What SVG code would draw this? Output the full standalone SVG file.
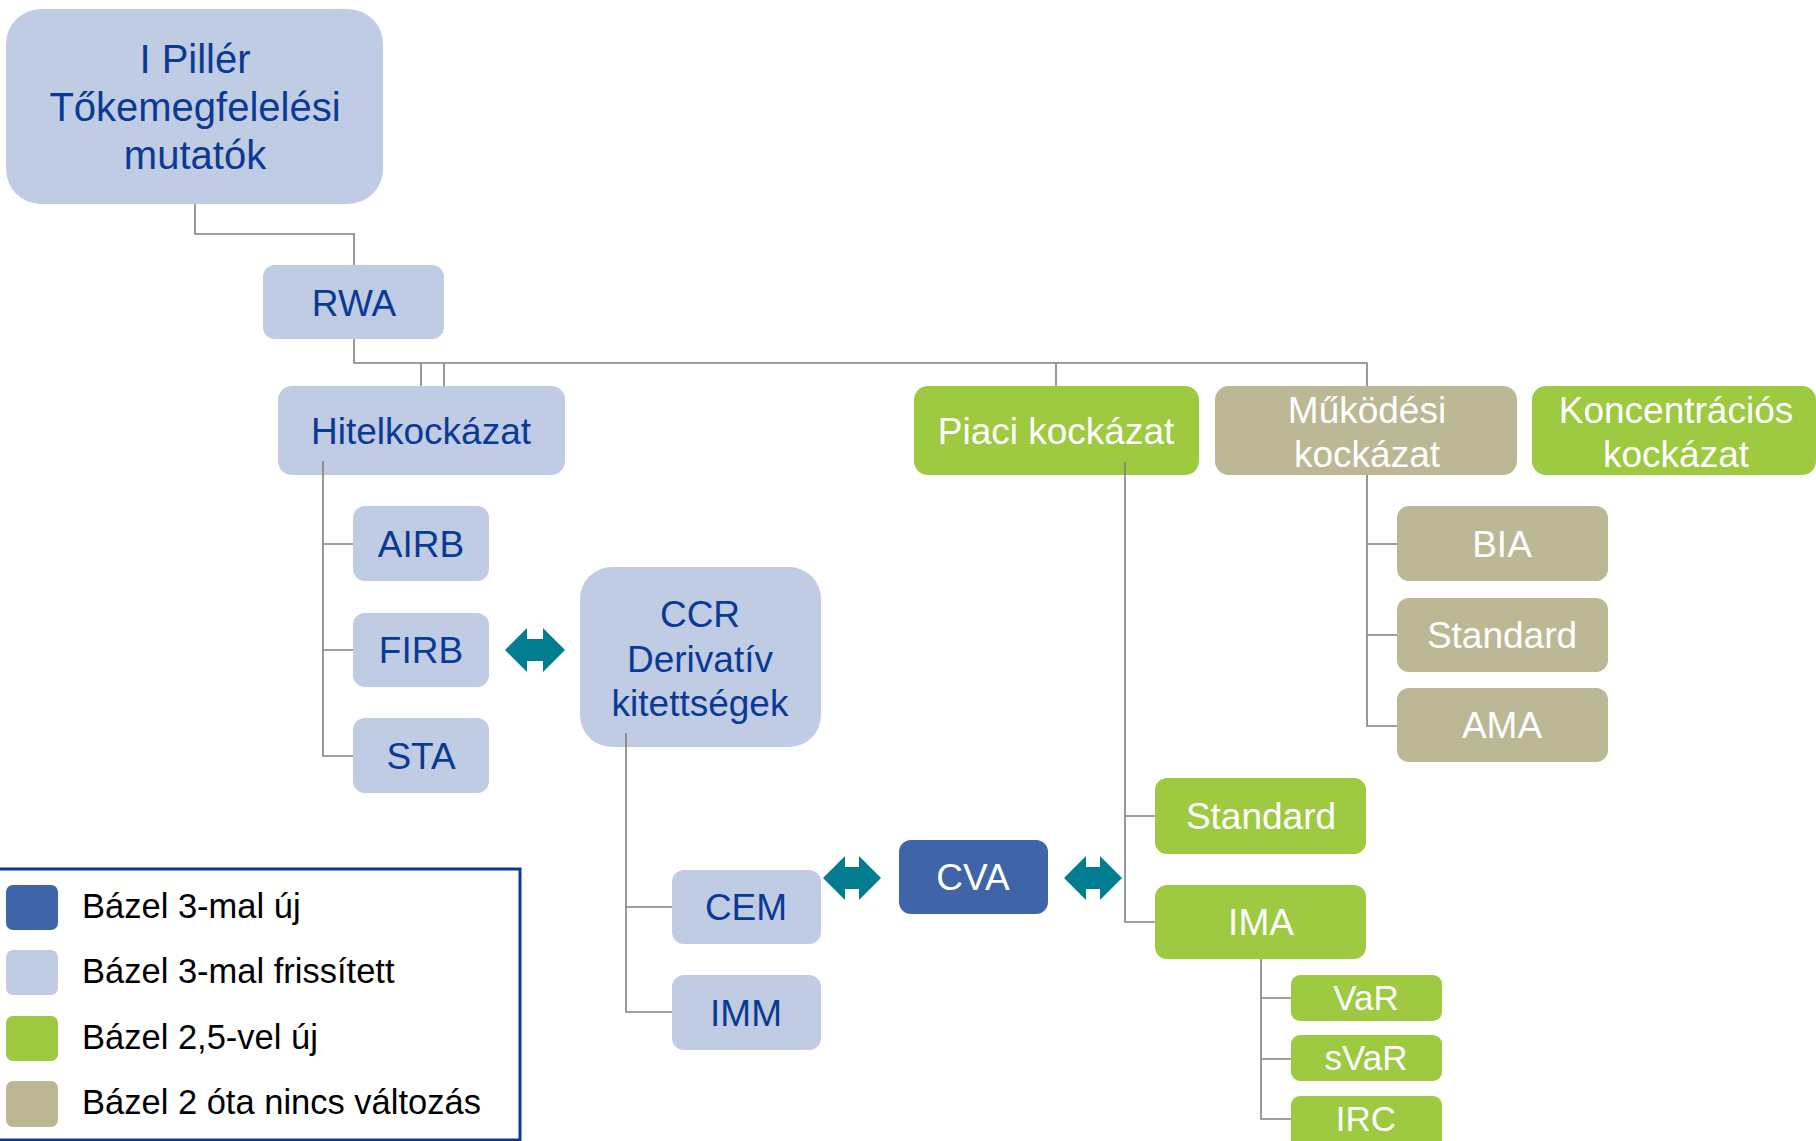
<svg xmlns="http://www.w3.org/2000/svg" width="1816" height="1141" viewBox="0 0 1816 1141">
<defs>
<style>
.lb{fill:#C0CCE4}
.gr{fill:#9DCA41}
.tn{fill:#BCB795}
.db{fill:#3F65A8}
text{font-family:"Liberation Sans",Arial,sans-serif;text-anchor:middle}
.tb{fill:#0B3A94;font-size:37px}
.tw{fill:#FFFFFF;font-size:37px}
.big{fill:#0B3A94;font-size:40px}
.sm{fill:#FFFFFF;font-size:35px}
.lg{fill:#000000;font-size:34.5px;text-anchor:start}
.cn{fill:none;stroke:#808080;stroke-width:1.6}
.ar{fill:#017D8F}
</style>
</defs>
<rect width="1816" height="1141" fill="#FFFFFF"/>

<g id="n-pillar"><rect class="lb" x="6" y="9" width="377" height="195" rx="35"/>
<text class="big" x="195" y="73">I Pillér</text><text class="big" x="195" y="121">Tőkemegfelelési</text><text class="big" x="195" y="169">mutatók</text></g>
<g id="n-rwa"><rect class="lb" x="263" y="265" width="181" height="74" rx="12"/><text class="tb" x="354" y="316">RWA</text></g>
<g id="n-hitel"><rect class="lb" x="278" y="386" width="287" height="89" rx="14"/><text class="tb" x="421" y="444">Hitelkockázat</text></g>
<g id="n-airb"><rect class="lb" x="353" y="506" width="136" height="75" rx="12"/><text class="tb" x="421" y="557">AIRB</text></g>
<g id="n-firb"><rect class="lb" x="353" y="613" width="136" height="74" rx="12"/><text class="tb" x="421" y="663">FIRB</text></g>
<g id="n-sta"><rect class="lb" x="353" y="718" width="136" height="75" rx="12"/><text class="tb" x="421" y="769">STA</text></g>
<g id="n-ccr"><rect class="lb" x="580" y="567" width="241" height="180" rx="32"/>
<text class="tb" x="700" y="627">CCR</text><text class="tb" x="700" y="672">Derivatív</text><text class="tb" x="700" y="716">kitettségek</text></g>
<g id="n-cem"><rect class="lb" x="672" y="870" width="149" height="74" rx="12"/><text class="tb" x="746" y="920">CEM</text></g>
<g id="n-imm"><rect class="lb" x="672" y="975" width="149" height="75" rx="12"/><text class="tb" x="746" y="1026">IMM</text></g>
<g id="n-cva"><rect class="db" x="899" y="840" width="149" height="74" rx="12"/><text class="tw" x="973" y="890">CVA</text></g>
<g id="n-piaci"><rect class="gr" x="914" y="386" width="285" height="89" rx="14"/><text class="tw" x="1056" y="444">Piaci kockázat</text></g>
<g id="n-mukodesi"><rect class="tn" x="1215" y="386" width="302" height="89" rx="14"/>
<text class="tw" x="1367" y="423">Működési</text><text class="tw" x="1367" y="467">kockázat</text></g>
<g id="n-koncentracios"><rect class="gr" x="1532" y="386" width="284" height="89" rx="14"/>
<text class="tw" x="1676" y="423">Koncentrációs</text><text class="tw" x="1676" y="467">kockázat</text></g>
<g id="n-bia"><rect class="tn" x="1397" y="506" width="211" height="75" rx="12"/><text class="tw" x="1502" y="557">BIA</text></g>
<g id="n-standard-op"><rect class="tn" x="1397" y="598" width="211" height="74" rx="12"/><text class="tw" x="1502" y="648">Standard</text></g>
<g id="n-ama"><rect class="tn" x="1397" y="688" width="211" height="74" rx="12"/><text class="tw" x="1502" y="738">AMA</text></g>
<g id="n-standard-mkt"><rect class="gr" x="1155" y="778" width="211" height="76" rx="12"/><text class="tw" x="1261" y="829">Standard</text></g>
<g id="n-ima"><rect class="gr" x="1155" y="885" width="211" height="74" rx="12"/><text class="tw" x="1261" y="935">IMA</text></g>
<g id="n-var"><rect class="gr" x="1291" y="975" width="151" height="46" rx="9"/><text class="sm" x="1366" y="1010">VaR</text></g>
<g id="n-svar"><rect class="gr" x="1291" y="1035" width="151" height="46" rx="9"/><text class="sm" x="1366" y="1070">sVaR</text></g>
<g id="n-irc"><rect class="gr" x="1291" y="1096" width="151" height="60" rx="9"/><text class="sm" x="1366" y="1131">IRC</text></g>

<g id="connectors">
<path class="cn" d="M195 204V234H354V265"/>
<path class="cn" d="M354 339V363H1367V386"/>
<path class="cn" d="M421 363V386M444 363V386M1056 363V386"/>
<path class="cn" d="M323 461V756H353M323 544H353M323 650H353"/>
<path class="cn" d="M626 733V1012H672M626 907H672"/>
<path class="cn" d="M1125 462V922H1155M1125 816H1155"/>
<path class="cn" d="M1367 475V726H1397M1367 544H1397M1367 635H1397"/>
<path class="cn" d="M1261 959V1119H1291M1261 998H1291M1261 1059H1291"/>
<polygon class="ar" points="505,650 527,628 527,639 543,639 543,628 565,650 543,672 543,661 527,661 527,672"/>
<polygon class="ar" points="823,878 845,856 845,867 859,867 859,856 881,878 859,900 859,889 845,889 845,900"/>
<polygon class="ar" points="1064,878 1086,856 1086,867 1100,867 1100,856 1122,878 1100,900 1100,889 1086,889 1086,900"/>
</g>

<g id="legend">
<rect x="-5" y="869" width="525" height="271" fill="none" stroke="#0B3A94" stroke-width="3"/>
<rect class="db" x="6" y="885" width="52" height="45" rx="7"/>
<rect class="lb" x="6" y="950" width="52" height="45" rx="7"/>
<rect class="gr" x="6" y="1016" width="52" height="45" rx="7"/>
<rect class="tn" x="6" y="1081" width="52" height="46" rx="7"/>
<text class="lg" x="82" y="918">Bázel 3-mal új</text>
<text class="lg" x="82" y="983">Bázel 3-mal frissített</text>
<text class="lg" x="82" y="1049">Bázel 2,5-vel új</text>
<text class="lg" x="82" y="1114">Bázel 2 óta nincs változás</text>
</g>
</svg>
